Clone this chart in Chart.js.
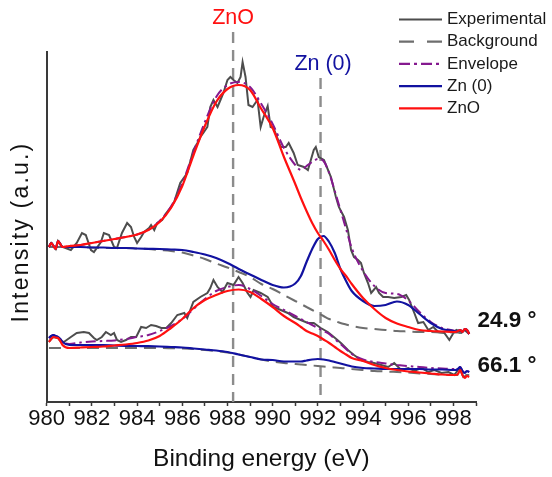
<!DOCTYPE html>
<html>
<head>
<meta charset="utf-8">
<script src="https://cdn.jsdelivr.net/npm/chart.js@4.4.1/dist/chart.umd.min.js"></script>
<style>
  html, body { margin: 0; padding: 0; background: #ffffff; }
  canvas { display: block; }
</style>
</head>
<body>
<canvas id="xps" width="552" height="477"></canvas>
<script>
// Zn 2p3/2 region: two tilt angles, each with fitted components (arbitrary units).

// Energy grid of the fitted curves (eV)
const fitEnergy = [
  980.1, 980.2, 980.3, 980.4, 980.5, 980.6, 980.7,
  981, 981.5, 982, 982.5, 983, 983.5, 984, 984.5, 985, 985.5, 986, 986.5, 987, 987.5,
  988, 988.5, 989, 989.5, 990, 990.5, 991,
  991.25, 991.5, 991.75, 992, 992.25, 992.5, 992.75, 993, 993.25, 993.5,
  994, 994.5, 995, 995.5, 996, 996.5, 997, 997.5, 998,
  998.1, 998.2, 998.3, 998.4, 998.5, 998.6, 998.7
];

// 24.9° spectrum
const bgTop = [
  155, 155, 155, 155, 155, 155, 155,
  155, 155, 154.5, 154, 154, 154, 153.5, 153, 152, 151, 149.5, 146.5, 143, 138.5,
  134.5, 130, 125, 118, 113, 107, 101,
  98, 95, 92, 89, 86, 83, 81, 79, 77.5, 76,
  74, 73, 72, 71, 70.5, 70, 70, 69.5, 69.5,
  69.5, 69.5, 69, 69, 69, 69, 69
];
const znoTop = [
  155, 159, 156, 153, 161, 158, 155,
  156, 157, 159, 161, 163, 165, 167.5, 172, 180, 194, 216, 247, 276, 300,
  313, 317, 312, 293, 274, 245, 218,
  204, 191, 179, 169, 161, 152, 142, 133, 126, 118,
  104, 93, 84, 78.5, 75, 72, 71, 70.5, 70,
  70, 71, 72, 70, 73, 72, 68
];
const znTop = [
  155, 159, 156, 153, 161, 158, 155,
  155, 155, 154.5, 154.5, 154, 154, 153.5, 153.2, 153, 152.5, 152, 150, 147.5, 144,
  139, 133, 127.5, 122, 117, 114.5, 118.5,
  126, 140, 153, 163, 166, 160, 149, 133, 121, 111,
  101, 96, 97, 100.5, 97, 88, 79, 73, 71,
  70.5, 71, 72, 70, 73, 72, 68
];
const envTop = [
  155, 159, 156, 153, 161, 158, 155,
  156, 157, 159, 161, 163, 165, 167.5, 172, 181, 195.5, 218.5, 250, 280, 305,
  317, 320, 315, 298, 278, 254, 237,
  232, 236, 240, 243, 241, 229, 211, 192, 173, 154,
  131, 116, 109, 108, 101.5, 90, 80, 74, 71.5,
  71, 71, 72, 70, 73, 72, 68
];

// 66.1° spectrum
const bgBottom = [
  54, 54, 54, 54, 54, 54, 54,
  54, 54, 54, 54, 54, 54, 54, 54, 54, 53.8, 53.5, 53, 52, 51,
  49.5, 47.5, 45, 42.5, 40.5, 39, 38,
  37.5, 37, 36.5, 36, 35.5, 35, 34.5, 34, 33.5, 33,
  32, 31, 30.5, 30, 29.5, 28.5, 28, 27.5, 27,
  27, 27, 27, 27, 27, 27, 27
];
const znoBottom = [
  60, 63, 65, 64.5, 64, 61, 57,
  54, 54.5, 55, 55.5, 56.5, 57.5, 59, 61.5, 66, 74, 83, 94, 102, 107,
  111, 112.5, 110, 103, 95, 86, 79,
  75, 71, 68.5, 66, 62.5, 59, 55, 51, 47.5, 44,
  41, 37, 34, 32, 30.5, 29.5, 28.5, 27.5, 27,
  27, 28, 32, 27, 24, 26, 25
];
const znBottom = [
  64, 66, 67, 66, 65, 63, 60,
  57, 57, 57, 56.8, 56.5, 56.2, 56, 55.8, 55.5, 55, 54.5, 53.5, 52.5, 51.5,
  50, 47.5, 45, 42.5, 42, 40.5, 40.5,
  40.5, 41.5, 42.5, 43, 42.5, 41.5, 40, 38.5, 37, 35.5,
  34, 33.5, 33, 33, 33, 33, 32.5, 32.5, 32,
  32, 33, 35, 31, 29, 31, 30
];
const envBottom = [
  64, 66, 67, 66, 65, 63, 60,
  58, 59.5, 60.5, 61, 61.5, 63, 65, 67, 71, 76, 83, 93, 103, 111,
  115, 117, 113, 106, 98, 92, 86,
  83, 80, 77, 74, 71, 68, 63, 58, 53, 48,
  42.5, 40, 38.5, 37, 36, 35, 34, 33.5, 33,
  33, 33, 35, 31, 29, 31, 30
];

// Measured spectra
const expTopEnergy = [
  980.1, 980.2, 980.3, 980.4, 980.5, 980.6, 980.7, 981.07, 981.33, 981.56, 981.73, 981.96,
  982.09, 982.4, 982.53, 982.76, 982.98, 983.11, 983.33, 983.56, 983.73, 983.87,
  984.0, 984.18, 984.31, 984.53, 984.62, 984.76, 984.89, 985.11, 985.29, 985.51, 985.64, 985.91,
  986.22, 986.49, 986.67, 986.8, 986.93, 987.11, 987.24, 987.38, 987.56, 987.69, 987.82,
  988.0, 988.13, 988.27, 988.44, 988.58, 988.67, 988.8, 988.93, 989.11, 989.33, 989.47, 989.6, 989.78, 989.91,
  990.04, 990.36, 990.58, 990.71, 990.93, 991.11, 991.38, 991.56, 991.69, 991.82, 991.91,
  992.04, 992.27, 992.58, 992.8, 992.93, 993.16, 993.33, 993.47, 993.6, 993.78, 993.91,
  994.04, 994.22, 994.36, 994.58, 994.71, 994.89, 995.11, 995.38, 995.69, 995.91,
  996.04, 996.27, 996.44, 996.67, 996.89, 997.11, 997.33, 997.6, 997.82, 998.0, 998.13, 998.36, 998.49, 998.7
];
const expTop = [
  155, 159, 156, 153, 161, 158, 155, 152, 159, 169, 167, 152,
  150, 160, 169, 167, 155, 154, 169, 179, 175, 165,
  159, 165, 170, 174, 177, 172, 179, 182, 189, 195, 200, 219,
  229, 252, 259, 265, 269, 275, 295, 302, 295, 302, 309,
  322, 325, 322, 319, 325, 340, 325, 297, 295, 302, 275, 285, 296, 275,
  274, 255, 255, 259, 249, 237, 235, 232, 242, 252, 255,
  245, 242, 225, 205, 195, 185, 172, 152, 145, 142, 139,
  129, 119, 109, 115, 109, 105, 105, 104, 105, 107,
  102, 89, 79, 80, 72, 75, 70, 69, 62, 69, 72, 70, 72, 68
];
const expBottomEnergy = [
  980.1, 980.2, 980.3, 980.4, 980.5, 980.6, 980.76, 981.07, 981.33, 981.64, 981.87,
  982.09, 982.22, 982.44, 982.62, 982.84, 982.98, 983.11, 983.29, 983.51, 983.73, 983.96,
  984.18, 984.4, 984.62, 984.84, 985.07, 985.29, 985.51, 985.78, 986.09, 986.22, 986.49, 986.8,
  987.11, 987.24, 987.38, 987.56, 987.78, 988.0, 988.27, 988.49, 988.67, 988.89,
  989.02, 989.16, 989.47, 989.78, 990.04, 990.36, 990.67, 990.93, 991.24, 991.56, 991.82,
  992.13, 992.44, 992.71, 993.02, 993.33, 993.6, 993.91, 994.22, 994.49, 994.8,
  995.11, 995.38, 995.69, 996.0, 996.27, 996.58, 996.89, 997.16, 997.47, 997.78,
  998.04, 998.27, 998.44, 998.67
];
const expBottom = [
  60, 63, 65, 64.5, 64, 61, 60, 65, 69, 70, 69,
  64, 62, 65, 70, 67, 69, 62, 60, 62, 65, 65,
  75, 74, 77, 76, 74, 74, 79, 87, 89, 84, 100, 105,
  109, 114, 122, 115, 110, 119, 117, 125, 119, 109,
  105, 112, 109, 105, 95, 92, 89, 85, 82, 79, 79,
  74, 70, 65, 59, 52, 47, 42, 40, 39, 37,
  35, 39, 32, 34, 31, 34, 30, 32, 29, 30,
  27, 34, 25, 27
];

// Peak positions marked by vertical guides
const peakNames = ['ZnO', 'Zn (0)'];
const peakEnergy = [988.25, 992.12];
// Tilt angles of the two spectra
const angleLabels = ['24.9 °', '66.1 °'];
const seriesNames = ['Experimental', 'Background', 'Envelope', 'Zn (0)', 'ZnO'];

const FONT = '"Liberation Sans", Arial, Helvetica, sans-serif';
Chart.defaults.font.family = FONT;

const styles = {
  Experimental: { color: '#4d4d4d', width: 2, dash: [], legendDash: [], order: 4, smooth: false },
  Background: { color: '#6e6e6e', width: 2, dash: [12, 7], legendDash: [15, 13], order: 3, smooth: true },
  Envelope: { color: '#85198f', width: 2, dash: [10, 4, 2.5, 4], legendDash: [11, 4, 3, 4], order: 2, smooth: true },
  'Zn (0)': { color: '#1212a0', width: 2.2, dash: [], legendDash: [], order: 1, smooth: true },
  ZnO: { color: '#ff1010', width: 2.2, dash: [], legendDash: [], order: 0, smooth: true }
};
const peakColors = [styles.ZnO.color, styles['Zn (0)'].color];

const toPoints = (xs, ys) => xs.map((v, i) => ({ x: v, y: ys[i] }));

function makeSet(name, xs, ys) {
  const s = styles[name];
  return {
    label: name,
    data: toPoints(xs, ys),
    borderColor: s.color,
    borderWidth: s.width,
    borderDash: s.dash,
    pointRadius: 0,
    fill: false,
    order: s.order,
    cubicInterpolationMode: s.smooth ? 'monotone' : 'default',
    tension: 0
  };
}

const datasets = [
  makeSet('Experimental', expTopEnergy, expTop),
  makeSet('Experimental', expBottomEnergy, expBottom),
  makeSet('Background', fitEnergy, bgTop),
  makeSet('Background', fitEnergy, bgBottom),
  makeSet('Envelope', fitEnergy, envTop),
  makeSet('Envelope', fitEnergy, envBottom),
  makeSet('Zn (0)', fitEnergy, znTop),
  makeSet('Zn (0)', fitEnergy, znBottom),
  makeSet('ZnO', fitEnergy, znoTop),
  makeSet('ZnO', fitEnergy, znoBottom)
];

const decorations = {
  id: 'decorations',
  beforeDatasetsDraw(chart) {
    const { ctx, scales: { x, y } } = chart;
    const tops = [370, 324];
    ctx.save();
    ctx.lineWidth = 2.4;
    ctx.strokeStyle = '#8c8c8c';
    ctx.setLineDash([11, 7]);
    peakEnergy.forEach((e, i) => {
      const px = x.getPixelForValue(e);
      ctx.beginPath();
      ctx.moveTo(px, y.getPixelForValue(tops[i]));
      ctx.lineTo(px, y.getPixelForValue(0));
      ctx.stroke();
    });
    ctx.restore();
  },
  afterDraw(chart) {
    const { ctx, scales: { x, y }, chartArea } = chart;
    ctx.save();

    // peak names above the guides
    const nameY = [384, 338];
    const nameShift = [0, 2.5];
    ctx.font = '21.5px ' + FONT;
    ctx.textAlign = 'center';
    ctx.textBaseline = 'middle';
    peakNames.forEach((t, i) => {
      ctx.fillStyle = peakColors[i];
      ctx.fillText(t, x.getPixelForValue(peakEnergy[i]) + nameShift[i], y.getPixelForValue(nameY[i]));
    });

    // tilt angle of each spectrum
    const angleY = [81, 36];
    ctx.font = 'bold 22.5px ' + FONT;
    ctx.textAlign = 'left';
    ctx.fillStyle = '#111111';
    angleLabels.forEach((t, i) => {
      ctx.fillText(t, chartArea.right + 1.5, y.getPixelForValue(angleY[i]));
    });

    // y axis title
    ctx.save();
    ctx.translate(22, 233);
    ctx.rotate(-Math.PI / 2);
    ctx.font = '23px ' + FONT;
    ctx.fillStyle = '#111111';
    ctx.textAlign = 'center';
    if ('letterSpacing' in ctx) ctx.letterSpacing = '2.2px';
    ctx.fillText('Intensity (a.u.)', 1, 0);
    ctx.restore();

    // legend
    ctx.font = '17px ' + FONT;
    ctx.textAlign = 'left';
    ctx.textBaseline = 'middle';
    seriesNames.forEach((name, i) => {
      const s = styles[name];
      const ly = 19.5 + i * 22.2;
      ctx.beginPath();
      ctx.setLineDash(s.legendDash);
      ctx.strokeStyle = s.color;
      ctx.lineWidth = 2.2;
      ctx.moveTo(399, ly);
      ctx.lineTo(442, ly);
      ctx.stroke();
      ctx.setLineDash([]);
      ctx.fillStyle = '#1a1a1a';
      ctx.fillText(name, 447, ly);
    });
    ctx.restore();
  }
};

new Chart(document.getElementById('xps'), {
  type: 'line',
  data: { datasets },
  options: {
    responsive: false,
    animation: false,
    events: [],
    layout: { padding: { top: 52, right: 76, left: 0, bottom: 0 } },
    plugins: { legend: { display: false }, tooltip: { enabled: false } },
    scales: {
      x: {
        type: 'linear',
        min: 980,
        max: 999,
        ticks: {
          stepSize: 1,
          autoSkip: false,
          maxRotation: 0,
          padding: 0,
          color: '#111111',
          font: { size: 22 },
          callback: (v) => (v % 2 === 0 ? String(v) : '')
        },
        grid: { display: true, drawOnChartArea: false, drawTicks: true, tickLength: 4, tickWidth: 1.5, tickColor: '#3a3a3a' },
        border: { display: true, color: '#3a3a3a', width: 2 },
        title: { display: true, text: 'Binding energy (eV)', color: '#111111', font: { size: 24.5 }, padding: { top: 0, bottom: 3 } },
        afterFit: (scale) => { scale.height = 75; }
      },
      y: {
        type: 'linear',
        min: 0,
        max: 350,
        ticks: { display: false },
        grid: { display: false, drawTicks: false },
        border: { display: true, color: '#3a3a3a', width: 2 },
        title: { display: false },
        afterFit: (scale) => { scale.width = 46.7; }
      }
    }
  },
  plugins: [decorations]
});
</script>
</body>
</html>
